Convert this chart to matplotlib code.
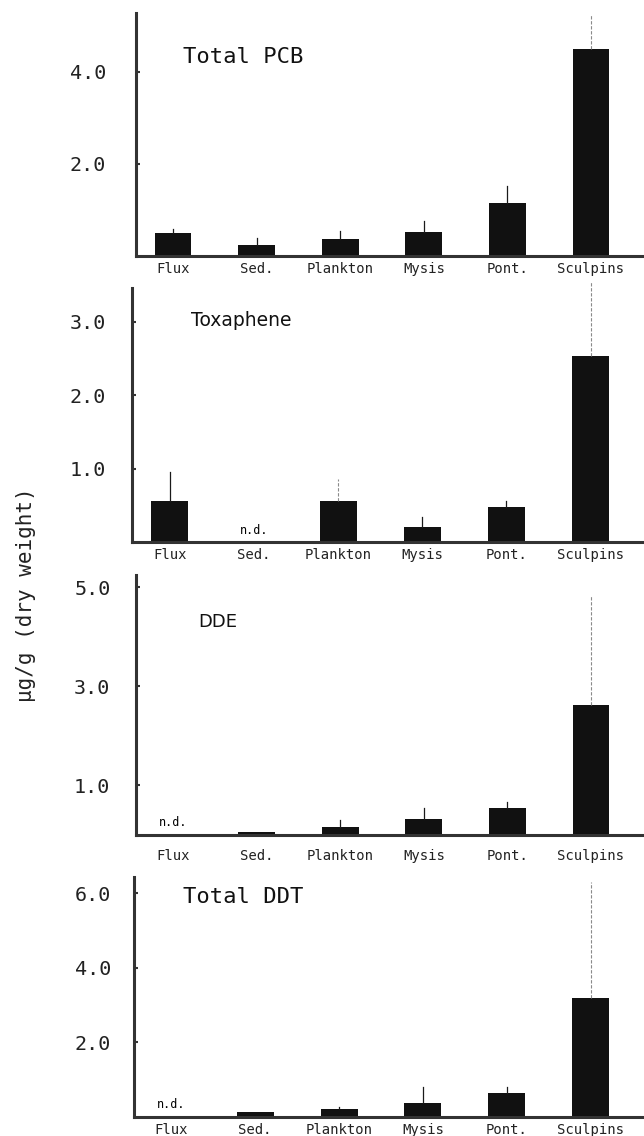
import matplotlib
matplotlib.use('Agg')
import matplotlib.pyplot as plt

categories = ['Flux', 'Sed.', 'Plankton', 'Mysis', 'Pont.', 'Sculpins']

pcb = [0.50, 0.24, 0.37, 0.52, 1.15, 4.50]
pcb_err = [0.59, 0.39, 0.54, 0.76, 1.52, 5.26]

toxaphene = [0.56, 0.0, 0.56, 0.20, 0.48, 2.54]
toxaphene_err = [0.95, None, 0.86, 0.34, 0.56, 3.56]

dde = [0.0, 0.06, 0.16, 0.32, 0.55, 2.63]
dde_err = [None, None, 0.30, 0.55, 0.67, 4.85]

ddt = [0.0, 0.13, 0.21, 0.38, 0.64, 3.20]
ddt_err = [None, None, 0.27, 0.80, 0.80, 6.30]

W, H = 644, 1136
mono = 'DejaVu Sans Mono'
PT = 72 / 100  # points per pixel

fig = plt.figure(figsize=(W / 100, H / 100), dpi=100)

# layout, in pixels
panels = [
    dict(vals=pcb, err=pcb_err, left=135.5, top=13, bottom=256, ymax=5.28,
         ticks=[2, 4], ypad=21, title='Total PCB', tfont=mono, tsize=16,
         tx=183, ty=57, nd=None, lab_gap=12),
    dict(vals=toxaphene, err=toxaphene_err, left=132, top=288, bottom=542, ymax=3.46,
         ticks=[1, 2, 3], ypad=19, title='Toxaphene', tfont='DejaVu Sans', tsize=13.5,
         tx=191, ty=320, nd=1, lab_gap=12),
    dict(vals=dde, err=dde_err, left=135.5, top=575, bottom=835, ymax=5.25,
         ticks=[1, 3, 5], ypad=18, title='DDE', tfont='DejaVu Sans', tsize=13,
         tx=198, ty=622, nd=0, lab_gap=20),
    dict(vals=ddt, err=ddt_err, left=133.5, top=877, bottom=1117, ymax=6.43,
         ticks=[2, 4, 6], ypad=16, title='Total DDT', tfont=mono, tsize=16,
         tx=183, ty=897, nd=0, lab_gap=12),
]

x = list(range(len(categories)))
for k, p in enumerate(panels):
    ax = fig.add_axes([p['left'] / W, 1 - p['bottom'] / H,
                       (652 - p['left']) / W, (p['bottom'] - p['top']) / H])
    ax.bar(x, p['vals'], width=0.44, color='#111111', zorder=2)
    for xi, v, e in zip(x, p['vals'], p['err']):
        if e is None:
            continue
        if xi == 5 or (k == 1 and xi == 2):
            ax.plot([xi, xi], [v, e], color='#8a8a8a', lw=0.8, ls=(0, (3, 1.5)),
                    clip_on=False, zorder=3)
        else:
            ax.plot([xi, xi], [v, e], color='#1a1a1a', lw=0.9, zorder=3)
    ax.set_xlim(-0.45, 5.73)
    ax.set_ylim(0, p['ymax'])
    ax.set_yticks(p['ticks'])
    ax.set_yticklabels(['%.1f' % t for t in p['ticks']], fontfamily=mono,
                       fontsize=14.5, color='#222222')
    ax.tick_params(axis='y', direction='in', length=3, width=1.5,
                   pad=p['ypad'], color='#333333')
    ax.set_xticks(x)
    ax.set_xticklabels(categories, fontfamily=mono, fontsize=10, color='#222222')
    ax.tick_params(axis='x', length=0, pad=(p['lab_gap'] - 14) * PT + 6)
    for s in ['top', 'right']:
        ax.spines[s].set_visible(False)
    for s in ['left', 'bottom']:
        ax.spines[s].set_linewidth(2.2)
        ax.spines[s].set_color('#333333')
    fig.text(p['tx'] / W, 1 - p['ty'] / H, p['title'], fontfamily=p['tfont'],
             fontsize=p['tsize'], va='center', ha='left', color='#111111')
    if p['nd'] is not None:
        ax.annotate('n.d.', (p['nd'], 0), xytext=(0, 12 * PT), textcoords='offset points',
                    fontfamily=mono, fontsize=8.5, ha='center', va='center')

fig.text(26 / W, 1 - 595 / H, 'μg/g (dry weight)', rotation=90, fontfamily=mono,
         fontsize=15, ha='center', va='center', color='#222222')

fig.savefig('out.png', dpi=100)
